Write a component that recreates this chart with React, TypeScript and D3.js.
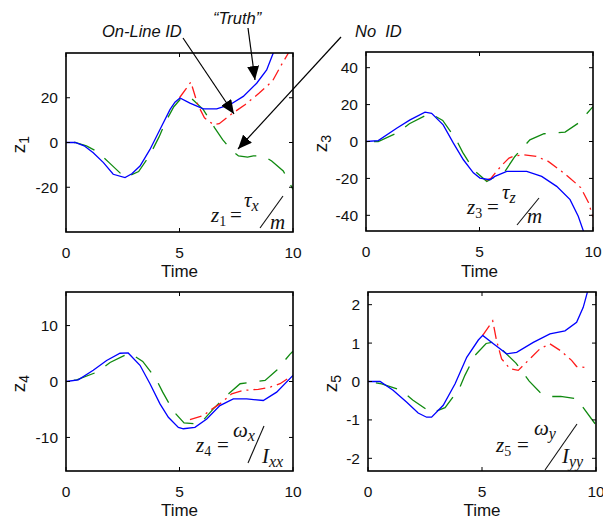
import * as d3 from 'd3';

// samples: [time, value]
const truthZ1 = [[0,0],[0.4,0],[0.8,-1.5],[1.2,-4.6],[1.65,-9],[2.08,-14.2],[2.6,-15.7],[2.9,-14],[3.26,-10.5],[3.7,-3.1],[4.14,5.8],[4.58,14.7],[4.8,18],[5.02,19.9],[5.46,17.6],[6.05,15],[6.64,15],[7.22,16.9],[7.81,20.6],[8.4,26.5],[8.84,32.4],[9.13,40],[9.3,45]];
const onlineZ1 = [[5.0,20],[5.5,27],[5.8,17],[6.1,11],[6.5,8],[6.75,8.4],[7.3,12.8],[7.9,17],[8.5,22],[9.1,27.5],[9.45,34],[9.8,40]];
const noIdZ1 = [[0,0],[0.4,0],[0.9,-1.5],[1.35,-3.9],[1.9,-9],[2.6,-15.7],[3.2,-13],[3.7,-5.5],[4.1,2.5],[4.4,9.5],[4.75,16],[5.05,19.5],[5.3,20.6],[5.55,19.5],[6.05,14.7],[6.55,6.5],[6.9,1.3],[7.3,-3.5],[7.6,-6],[8.0,-6.5],[8.25,-6],[8.7,-6],[9.06,-8.3],[9.57,-12.7],[10,-21]];

const truthZ3 = [[0,0],[0.54,0.5],[1.35,7.2],[1.94,11.7],[2.6,15.9],[2.89,15.3],[3.4,9],[3.85,-0.9],[4.29,-9.9],[4.73,-17],[5.02,-19.8],[5.46,-20.7],[5.68,-18.9],[6.2,-16.2],[7.08,-16.2],[7.74,-18.9],[8.4,-24.3],[8.99,-31.5],[9.35,-40.5],[9.58,-48.6],[9.7,-53]];
const onlineZ3 = [[5.3,-21],[5.5,-20],[5.97,-13],[6.3,-9],[6.5,-8],[6.93,-7.2],[7.5,-8],[8.03,-10.8],[8.6,-16],[9.0,-20],[9.46,-25],[9.8,-33],[10,-41]];
const noIdZ3 = [[0,0],[0.54,0],[1.35,4.5],[1.91,9.6],[2.82,15.3],[3.38,11.4],[3.96,1.3],[4.26,-5.9],[4.76,-15.7],[5.32,-21.6],[6.12,-16.2],[6.56,-8.1],[7.22,0.9],[7.84,4.2],[8.77,5.1],[9.35,9.9],[10,18.9]];

const truthZ4 = [[0,0],[0.54,0.3],[1.2,2],[1.79,3.75],[2.38,5.05],[2.74,5.1],[3.26,2.9],[3.7,-0.4],[4.14,-4],[4.51,-6.4],[4.95,-8.2],[5.17,-8.45],[5.68,-8.2],[6.2,-6.7],[6.78,-4.3],[7.37,-3.1],[7.96,-3.1],[8.69,-3.4],[9.28,-1.9],[10,1.1]];
const onlineZ4 = [[5.46,-6.8],[6.05,-6.1],[6.4,-5],[6.78,-4],[7.3,-2.2],[7.81,-1.6],[8.47,-1.4],[9.0,-1],[9.43,-0.4],[9.87,0.8]];
const noIdZ4 = [[0,0],[0.47,0.3],[1.38,1.7],[1.94,3.4],[2.79,5.1],[3.38,3.6],[3.96,0.5],[4.26,-1.9],[4.73,-5.3],[5.2,-7.4],[5.9,-7.6],[6.49,-4.9],[7.19,-2.1],[7.67,-0.4],[8.77,0.2],[9.28,2],[9.87,4.9],[10,5.4]];

const truthZ5 = [[0,0],[0.53,0],[1.1,-0.23],[1.7,-0.54],[2.2,-0.82],[2.57,-0.93],[2.79,-0.93],[3.3,-0.62],[3.82,-0.06],[4.33,0.63],[4.84,1.08],[5.03,1.2],[5.5,0.98],[6.08,0.72],[6.52,0.76],[7.25,1.02],[7.98,1.24],[8.64,1.32],[9.15,1.54],[9.44,1.93],[9.62,2.32],[9.7,2.5]];
const onlineZ5 = [[5.03,1.2],[5.47,1.58],[5.64,1.06],[5.86,0.59],[6.23,0.33],[6.59,0.29],[7.17,0.63],[7.54,0.85],[7.98,0.98],[8.45,0.8],[8.93,0.55],[9.15,0.39],[9.56,0.36]];
const noIdZ5 = [[0,0],[0.6,-0.06],[1.43,-0.22],[1.96,-0.48],[2.79,-0.82],[3.38,-0.68],[4.0,-0.19],[4.25,0.16],[4.69,0.68],[5.18,0.99],[5.43,1.02],[5.93,0.8],[6.49,0.48],[7.07,0.01],[7.54,-0.28],[7.8,-0.39],[8.45,-0.39],[9.15,-0.45],[9.96,-1.1]];

const timeTicks = [0, 5, 10];

const panels = [
  { id: 'p1', x: 66, y: 53, w: 227, h: 179, yDomain: [-40, 40], yTicks: [-20, 0, 20], label: '1', truth: truthZ1, online: onlineZ1, noId: noIdZ1, labelX: 25, timeY: 277 },
  { id: 'p2', x: 366, y: 52, w: 227, h: 179, yDomain: [-48.5, 48.5], yTicks: [-40, -20, 0, 20, 40], label: '3', truth: truthZ3, online: onlineZ3, noId: noIdZ3, labelX: 327, timeY: 277 },
  { id: 'p3', x: 66, y: 292, w: 227, h: 179, yDomain: [-16, 16], yTicks: [-10, 0, 10], label: '4', truth: truthZ4, online: onlineZ4, noId: noIdZ4, labelX: 25, timeY: 516 },
  { id: 'p4', x: 368, y: 292, w: 228, h: 179, yDomain: [-2.33, 2.33], yTicks: [-2, -1, 0, 1, 2], label: '5', truth: truthZ5, online: onlineZ5, noId: noIdZ5, labelX: 337, timeY: 516 },
];

const sans = '"Liberation Sans", Arial, sans-serif';
const serif = '"Liberation Serif", "Times New Roman", serif';

function Panel({ p }) {
  const x = d3.scaleLinear().domain([0, 10]).range([p.x, p.x + p.w]);
  const y = d3.scaleLinear().domain(p.yDomain).range([p.y + p.h, p.y]);
  const line = d3.line().x(d => x(d[0])).y(d => y(d[1]));
  const tk = 4;
  return (
    <g>
      <clipPath id={`clip-${p.id}`}>
        <rect x={p.x} y={p.y} width={p.w} height={p.h} />
      </clipPath>
      <g clipPath={`url(#clip-${p.id})`} fill="none" strokeWidth={1.3}>
        <path d={line(p.noId)} stroke="#108a10" strokeDasharray="22,13" strokeDashoffset={27} />
        <path d={line(p.online)} stroke="#ff1a1a" strokeDasharray="12,5,2,5" />
        <path d={line(p.truth)} stroke="#0000ff" />
      </g>
      {/* ticks, inward on all four sides */}
      {timeTicks.map(t => (
        <g key={'x' + t} stroke="#000" strokeWidth={1}>
          <line x1={x(t)} x2={x(t)} y1={p.y + p.h} y2={p.y + p.h - tk} />
          <line x1={x(t)} x2={x(t)} y1={p.y} y2={p.y + tk} />
        </g>
      ))}
      {p.yTicks.map(v => (
        <g key={'y' + v} stroke="#000" strokeWidth={1}>
          <line x1={p.x} x2={p.x + tk} y1={y(v)} y2={y(v)} />
          <line x1={p.x + p.w} x2={p.x + p.w - tk} y1={y(v)} y2={y(v)} />
        </g>
      ))}
      <rect x={p.x} y={p.y} width={p.w} height={p.h} fill="none" stroke="#000" strokeWidth={1.6} />
      <g fontFamily={sans} fontSize={15.5} fill="#111">
        {timeTicks.map(t => (
          <text key={'xl' + t} x={x(t)} y={p.y + p.h + 26} textAnchor="middle">{t}</text>
        ))}
        {p.yTicks.map(v => (
          <text key={'yl' + v} x={p.x - 8} y={y(v) + 5.5} textAnchor="end">{v}</text>
        ))}
        <text x={x(5)} y={p.timeY} textAnchor="middle" fontSize={17}>Time</text>
        <text transform={`translate(${p.labelX},${(p.y + p.h / 2) + 2}) rotate(-90)`} textAnchor="middle" fontSize={19}>
          z<tspan fontSize={14} dy={4}>{p.label}</tspan>
        </text>
      </g>
    </g>
  );
}

// one "z_n = num / den" label, placed glyph by glyph
function Formula({ z, sub, eqX, numX, numY, num, numSub, slash, denX, denY, den, denSub }) {
  return (
    <g fontFamily={serif} fill="#111" fontSize={21}>
      <text x={z[0]} y={z[1]}><tspan fontStyle="italic">z</tspan><tspan fontSize={14} dy={4}>{sub}</tspan></text>
      <text x={eqX} y={z[1]}>=</text>
      <text x={numX} y={numY}><tspan fontStyle="italic">{num}</tspan><tspan fontStyle="italic" fontSize={16} dy={4}>{numSub}</tspan></text>
      <line x1={slash[0]} y1={slash[1]} x2={slash[2]} y2={slash[3]} stroke="#111" strokeWidth={1.1} />
      <text x={denX} y={denY}><tspan fontStyle="italic">{den}</tspan>{denSub && <tspan fontStyle="italic" fontSize={16} dy={4}>{denSub}</tspan>}</text>
    </g>
  );
}

export default function App() {
  return (
    <div style={{ position: 'absolute', left: 0, top: 0 }}>
      <svg width={603} height={519} style={{ display: 'block', background: '#fff' }}>
        <defs>
          <marker id="head" viewBox="0 0 14 12" refX={14} refY={6} markerWidth={14} markerHeight={12} markerUnits="userSpaceOnUse" orient="auto">
            <path d="M0,0 L14,6 L0,12 Z" fill="#000" />
          </marker>
        </defs>
        {panels.map(p => <Panel key={p.id} p={p} />)}

        {/* annotations */}
        <g fontFamily={sans} fontStyle="italic" fontSize={16.5} fill="#111">
          <text x={102} y={37}>On-Line ID</text>
          <text x={213} y={24}>“Truth”</text>
          <text x={355} y={37} xmlSpace="preserve">No  ID</text>
        </g>
        <g stroke="#000" strokeWidth={1.2}>
          <line x1={183} y1={38} x2={234} y2={114} markerEnd="url(#head)" />
          <line x1={248} y1={28} x2={255} y2={80} markerEnd="url(#head)" />
          <line x1={341} y1={37} x2={238} y2={149} markerEnd="url(#head)" />
        </g>

        <Formula z={[211, 222]} sub="1" eqX={230} numX={244} numY={207} num="τ" numSub="x" slash={[260, 228, 283, 196]} denX={270} denY={229} den="m" />
        <Formula z={[467, 214]} sub="3" eqX={487} numX={502} numY={199} num="τ" numSub="z" slash={[517, 225, 539, 198]} denX={527} denY={223} den="m" />
        <Formula z={[196, 452]} sub="4" eqX={217} numX={233} numY={437} num="ω" numSub="x" slash={[248, 463, 264, 426]} denX={262} denY={463} den="I" denSub="xx" />
        <Formula z={[496, 452]} sub="5" eqX={517} numX={534} numY={435} num="ω" numSub="y" slash={[545, 470, 577, 424]} denX={562} denY={463} den="I" denSub="yy" />
      </svg>
    </div>
  );
}
